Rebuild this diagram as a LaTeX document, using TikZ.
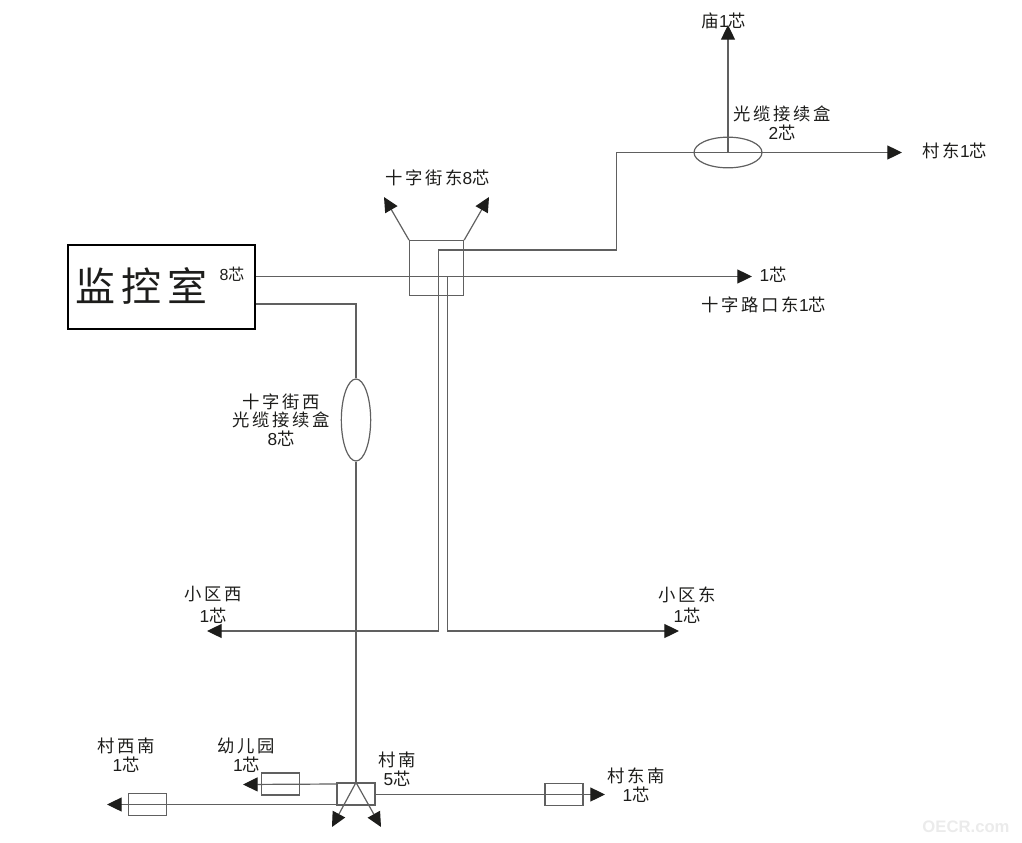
\documentclass[tikz,border=0pt]{standalone}
\usepackage{fontspec}
\usepackage{tikz}
\usetikzlibrary{arrows.meta,shapes.geometric}
\setmainfont{Liberation Sans}
\newfontfamily\cjk[LetterSpace=15]{Noto Sans CJK SC}
\newfontfamily\cjktight{Noto Sans CJK SC}
\newcommand{\xin}[1]{{\rmfamily #1}{\cjktight 芯}}
\definecolor{wire}{HTML}{606060}
\definecolor{tip}{HTML}{1D1D1B}
\tikzset{
	wire/.style={draw=wire,line width=.9pt},
	tipped/.style={wire,-{Triangle[length=11pt,width=10.5pt,color=tip]}},
	lbl/.style={font=\fontsize{13}{13}\selectfont\cjk,align=center,inner sep=0pt,text=tip},
	hub/.style={draw=wire,line width=.9pt,inner sep=0pt}
}
\begin{document}
\begin{tikzpicture}[x=.75pt,y=-.75pt]
	\useasboundingbox (0,0) rectangle (1022,843);

	% monitor room
	\node[draw=black,line width=1.6pt,minimum width=140pt,minimum height=63pt,inner sep=0pt] (room) at (161.5,287) {};
	\node[lbl,font=\fontsize{30}{30}\selectfont\cjk] (roomtext) at (141.5,286) {监控室};
	\node[lbl,font=\fontsize{12}{12}\selectfont] (roomcore) at (232,274) {\xin{8}};

	% boxes
	\node[hub,minimum width=40.5pt,minimum height=41pt] (crossbox) at (436.6,268) {};
	\node[hub,ellipse,minimum width=51pt,minimum height=23pt] (eastjoint) at (728,152.5) {};
	\node[hub,ellipse,minimum width=22pt,minimum height=61.5pt] (westjoint) at (356,420) {};
	\node[hub,minimum width=28.5pt,minimum height=16.5pt] (southbox) at (356,794) {};
	\node[hub,minimum width=28.5pt,minimum height=16.5pt] (kinderbox) at (280.5,784) {};
	\node[hub,minimum width=28.5pt,minimum height=16.5pt] (swbox) at (147.3,804.5) {};
	\node[hub,minimum width=28.5pt,minimum height=16.5pt] (sebox) at (564,794.5) {};

	% free ends
	\coordinate (temple) at (728,25);
	\coordinate (eastend) at (902,152.5);
	\coordinate (crossleft) at (384,197);
	\coordinate (crossright) at (489,197);
	\coordinate (crossend) at (752,276.5);
	\coordinate (westend) at (207,631);
	\coordinate (eastarea) at (679,631);
	\coordinate (kinderend) at (243,784.5);
	\coordinate (swend) at (107,804.5);
	\coordinate (seend) at (605,794.5);
	\coordinate (southleft) at (332,827);
	\coordinate (southright) at (381,827);
	\coordinate (bendone) at (438.7,250);
	\coordinate (bendtwo) at (616.5,250);
	\coordinate (bendthree) at (616.5,152.5);
	\coordinate (bendfour) at (356,304);
	\coordinate (bendfive) at (438.7,631);
	\coordinate (splitpt) at (447.7,276.5);
	\coordinate (bendsix) at (447.7,631);

	% cables
	\draw[tipped] (room.east |- crossend) -- (crossend);
	\draw[wire] (room.east |- bendfour) -- (bendfour) -- (westjoint.north);
	\draw[wire] (westjoint.south) -- (southbox.north);
	\draw[tipped] (eastjoint.center) -- (temple);
	\draw[tipped] (bendtwo) -- (bendthree) -- (eastend);
	\draw[tipped] (bendtwo) -- (bendone) -- (bendfive) -- (westend);
	\draw[tipped] (splitpt) -- (bendsix) -- (eastarea);
	\draw[tipped] (crossbox.north west) -- (crossleft);
	\draw[tipped] (crossbox.north east) -- (crossright);
	\draw[tipped] (southbox.north) -- (southleft);
	\draw[tipped] (southbox.north) -- (southright);
	\draw[tipped] (southbox.west |- kinderbox) -- (kinderend);
	\draw[tipped] (southbox.west |- swbox) -- (swend);
	\draw[tipped] (southbox.east |- sebox) -- (seend);

	% labels
	\node[lbl] (templetext) at (724,21) {庙\xin{1}};
	\node[lbl] (jointtext) at (782,123) {光缆接续盒\\[1pt]\xin{2}};
	\node[lbl] (eastone) at (955,151) {村东\xin{1}};
	\node[lbl] (crosstext) at (437.5,178) {十字街东\xin{8}};
	\node[lbl] (coreone) at (773,275) {\xin{1}};
	\node[lbl] (crosseast) at (764,305) {十字路口东\xin{1}};
	\node[lbl] (westtext) at (281,420) {十字街西\\[1pt]光缆接续盒\\[1pt]\xin{8}};
	\node[lbl] (areawest) at (213,605) {小区西\\[3pt]\xin{1}};
	\node[lbl] (areaeast) at (687,605) {小区东\\[3pt]\xin{1}};
	\node[lbl] (swtext) at (126,755) {村西南\\[1pt]\xin{1}};
	\node[lbl] (kindertext) at (246.5,755) {幼儿园\\[1pt]\xin{1}};
	\node[lbl] (southtext) at (397,769) {村南\\[1pt]\xin{5}};
	\node[lbl] (setext) at (636,785) {村东南\\[1pt]\xin{1}};
	\node[font=\fontsize{12.5}{12.5}\selectfont\bfseries,text=black!8,inner sep=0pt] (mark) at (966,827) {OECR.com};
\end{tikzpicture}
\end{document}
